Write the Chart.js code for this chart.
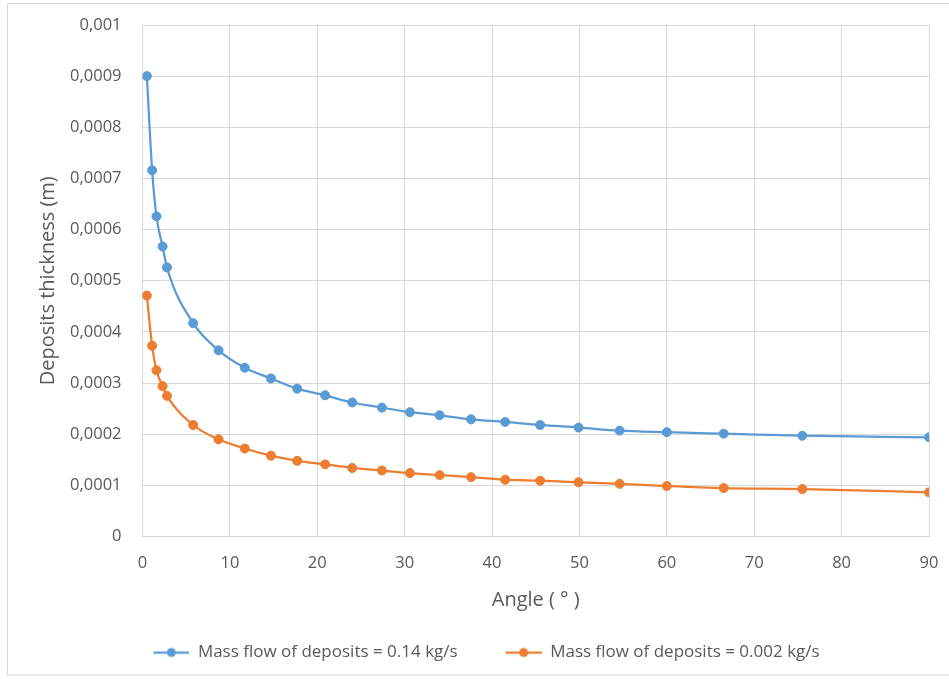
<!DOCTYPE html>
<html>
<head>
<meta charset="utf-8">
<script src="https://cdn.jsdelivr.net/npm/chart.js@4"></script>
<style>
  body { margin: 0; background: #fff; }
  #wrap { width: 949px; height: 679px; }
</style>
</head>
<body>
<div id="wrap"><canvas id="myChart" width="949" height="679"></canvas></div>
<script>
// angle (degrees) and deposit thickness (m)
const angulos = [0.5, 1.1, 1.6, 2.3, 2.8, 5.8, 8.7, 11.7, 14.7, 17.7, 20.9, 24.0, 27.4, 30.6, 34.0, 37.6, 41.5, 45.5, 49.9, 54.6, 60.0, 66.5, 75.5, 90]
const espesorAlto = [0.0009, 0.000716, 0.000626, 0.000567, 0.000526, 0.000417, 0.000364, 0.00033, 0.000309, 0.000289, 0.000276, 0.000262, 0.000252, 0.000243, 0.000237, 0.000229, 0.000224, 0.000218, 0.000213, 0.000207, 0.000204, 0.000201, 0.000197, 0.000194]
const espesorBajo = [0.000471, 0.000373, 0.000325, 0.000294, 0.000275, 0.000218, 0.00019, 0.000172, 0.000158, 0.000148, 0.000141, 0.000134, 0.000129, 0.000124, 0.00012, 0.000116, 0.000111, 0.000109, 0.000106, 0.000103, 0.0000987, 0.0000947, 0.0000927, 0.0000863]
const nombres = ['Mass flow of deposits = 0.14 kg/s', 'Mass flow of deposits = 0.002 kg/s']
const xTicks = [0, 10, 20, 30, 40, 50, 60, 70, 80, 90]
const yTicks = ['0', '0,0001', '0,0002', '0,0003', '0,0004', '0,0005', '0,0006', '0,0007', '0,0008', '0,0009', '0,001']

const azul = '#5B9BD5'
const naranja = '#ED7D31'
const gris = '#595959'
const fuente = '"Open Sans", Lato, sans-serif'

function puntos(ys) {
    return angulos.map((a, i) => ({ x: a, y: ys[i] }))
}

// little line + dot for the legend (left part left blank as spacing)
function marca(color) {
    const c = document.createElement('canvas')
    c.width = 62
    c.height = 12
    const g = c.getContext('2d')
    g.strokeStyle = color
    g.lineWidth = 2.25
    g.beginPath()
    g.moveTo(26, 6)
    g.lineTo(62, 6)
    g.stroke()
    g.fillStyle = color
    g.beginPath()
    g.arc(44, 6, 4.5, 0, Math.PI * 2)
    g.fill()
    return c
}

const marco = {
    id: 'marco',
    beforeDraw(chart) {
        const g = chart.ctx
        g.save()
        g.fillStyle = '#fff'
        g.fillRect(0, 0, chart.width, chart.height)
        g.strokeStyle = '#D9D9D9'
        g.lineWidth = 1
        g.strokeRect(7.5, 3.5, 980, 671.5)
        g.restore()
    }
}

const ctx = document.getElementById('myChart')
new Chart(ctx, {
    type: 'line',
    data: {
        datasets: [{
            label: nombres[0],
            data: puntos(espesorAlto),
            borderColor: azul,
            backgroundColor: azul,
            borderWidth: 2.25,
            pointRadius: 4.5,
            pointBorderWidth: 1,
            cubicInterpolationMode: 'monotone'
        }, {
            label: nombres[1],
            data: puntos(espesorBajo),
            borderColor: naranja,
            backgroundColor: naranja,
            borderWidth: 2.25,
            pointRadius: 4.5,
            pointBorderWidth: 1,
            cubicInterpolationMode: 'monotone'
        }]
    },
    options: {
        responsive: false,
        animation: false,
        layout: { padding: { top: 25, right: 20, left: 18, bottom: 8 } },
        plugins: {
            tooltip: { enabled: false },
            legend: {
                position: 'bottom',
                labels: {
                    usePointStyle: true,
                    pointStyleWidth: 62,
                    padding: 22,
                    color: gris,
                    font: { family: fuente, size: 17 },
                    generateLabels(chart) {
                        return chart.data.datasets.map((d, i) => ({
                            text: d.label,
                            pointStyle: marca(d.borderColor),
                            fillStyle: d.borderColor,
                            strokeStyle: d.borderColor,
                            lineWidth: 0,
                            fontColor: gris,
                            datasetIndex: i
                        }))
                    }
                }
            }
        },
        scales: {
            x: {
                type: 'linear',
                min: 0,
                max: 90,
                afterBuildTicks(scale) {
                    scale.ticks = xTicks.map(v => ({ value: v }))
                },
                afterFit(scale) {
                    scale.height = 85.5
                    scale.paddingLeft = 0
                    scale.paddingRight = 0
                },
                grid: { color: '#D9D9D9', drawTicks: false },
                border: { color: '#D9D9D9' },
                ticks: { color: gris, padding: 17, font: { family: fuente, size: 16.5 } },
                title: {
                    display: true,
                    text: 'Angle ( ° )',
                    color: gris,
                    font: { family: fuente, size: 20 },
                    padding: { top: 0, bottom: 9.5 }
                }
            },
            y: {
                min: 0,
                max: 0.001,
                afterBuildTicks(scale) {
                    scale.ticks = yTicks.map((t, i) => ({ value: i * 0.0001 }))
                },
                afterFit(scale) {
                    scale.width = 124.5
                    scale.paddingTop = 0
                    scale.paddingBottom = 0
                },
                grid: { color: '#D9D9D9', drawTicks: false },
                border: { color: '#D9D9D9' },
                ticks: {
                    color: gris,
                    padding: 21,
                    font: { family: fuente, size: 16.5 },
                    callback: (v, i) => yTicks[i]
                },
                title: {
                    display: true,
                    text: 'Deposits thickness (m)',
                    color: gris,
                    font: { family: fuente, size: 20 },
                    padding: { top: 18, bottom: 0 }
                }
            }
        }
    },
    plugins: [marco]
});
</script>
</body>
</html>
